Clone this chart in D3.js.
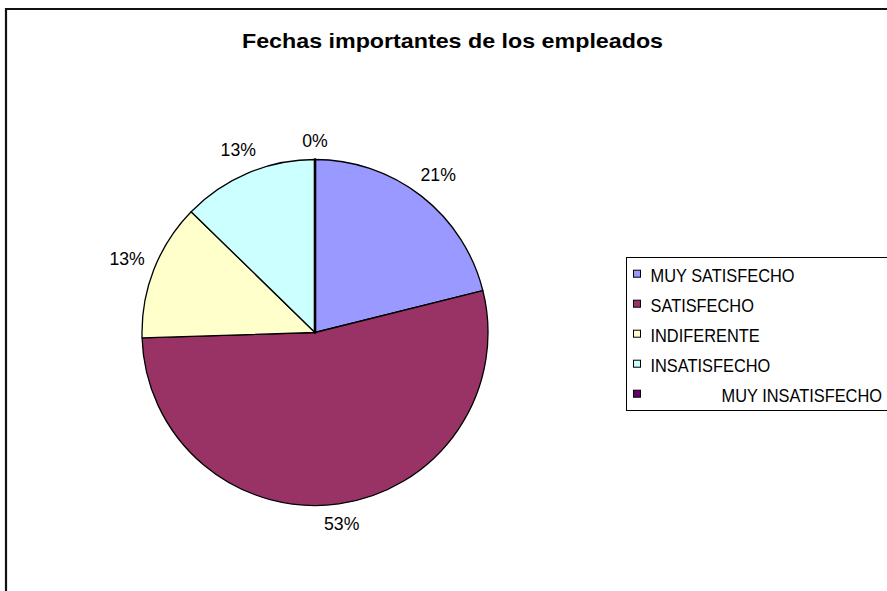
<!DOCTYPE html>
<html>
<head>
<meta charset="utf-8">
<script src="https://cdn.jsdelivr.net/npm/d3@7"></script>
<style>
  html, body { margin: 0; padding: 0; background: #ffffff; }
  svg { display: block; }
  text { font-family: "Liberation Sans", Arial, sans-serif; fill: #000; }
</style>
</head>
<body>
<svg id="chart" width="887" height="591"></svg>
<script>
// Survey answers (share of employees, %)
const categories = ["MUY SATISFECHO", "SATISFECHO", "INDIFERENTE", "INSATISFECHO", "MUY INSATISFECHO"];
const values = [21.1, 53.4, 12.8, 12.7, 0];
const colors = ["#9999FF", "#993366", "#FFFFCC", "#CCFFFF", "#660066"];
const title = "Fechas importantes de los empleados";

const svg = d3.select("#chart");
const W = 887, H = 591;

// narrow the glyphs of a text element by a fixed factor
function squeeze(sel, k) {
  sel.each(function () {
    const n = this.getComputedTextLength();
    d3.select(this).attr("textLength", n * k).attr("lengthAdjust", "spacingAndGlyphs");
  });
}

// chart frame (continues past the right and bottom edges)
svg.append("rect").attr("x", 0).attr("y", 0).attr("width", W).attr("height", H).attr("fill", "#fff");
svg.append("path")
  .attr("d", `M6,${H + 5} V9 H${W + 5}`)
  .attr("fill", "none").attr("stroke", "#111").attr("stroke-width", 2.2);

// title
svg.append("text")
  .attr("x", 452.5).attr("y", 48)
  .attr("text-anchor", "middle")
  .attr("font-size", 21).attr("font-weight", "bold")
  .attr("textLength", 421).attr("lengthAdjust", "spacingAndGlyphs")
  .text(title);

// pie
const cx = 315, cy = 332.5, r = 173;
const color = d3.scaleOrdinal().domain(categories).range(colors);
const total = d3.sum(values);
const data = categories.map((c, i) => ({ name: c, value: values[i] }));
const pie = d3.pie().sort(null).value(d => d.value).startAngle(0).endAngle(2 * Math.PI);
const arcs = pie(data);
const arc = d3.arc().innerRadius(0).outerRadius(r);

const g = svg.append("g").attr("transform", `translate(${cx},${cy})`);
g.selectAll("path.slice")
  .data(arcs)
  .join("path")
  .attr("class", "slice")
  .attr("d", arc)
  .attr("fill", d => color(d.data.name))
  .attr("stroke", "#000")
  .attr("stroke-width", d => d.endAngle - d.startAngle === 0 ? 2.6 : 1.3)
  .attr("stroke-linejoin", "round");

// percentage labels, set just outside the rim at each slice's mid-angle
const labelSize = 19;
const gap = 8.5;
g.selectAll("text.pct")
  .data(arcs)
  .join("text")
  .attr("class", "pct")
  .attr("font-size", labelSize)
  .attr("text-anchor", "middle")
  .attr("dominant-baseline", "central")
  .text(d => Math.round(d.data.value / total * 100) + "%")
  .call(squeeze, 0.93)
  .each(function (d) {
    const a = (d.startAngle + d.endAngle) / 2;
    const bw = +d3.select(this).attr("textLength");
    const bh = 20;
    const s = Math.sin(a), c = -Math.cos(a);
    const dist = r + gap + Math.abs(s) * bw / 2 + Math.abs(c) * bh / 2;
    d3.select(this).attr("x", s * dist).attr("y", c * dist - 0.5);
  });

// legend
const lgX = 626, lgY = 257, lgH = 153;
svg.append("rect")
  .attr("x", lgX + 0.5).attr("y", lgY + 0.5)
  .attr("width", W + 20 - lgX).attr("height", lgH)
  .attr("fill", "#fff").attr("stroke", "#000").attr("stroke-width", 1);

const row = d3.scalePoint().domain(categories).range([281.7, 401.7]);
const lg = svg.append("g");
const items = lg.selectAll("g.item").data(categories).join("g").attr("class", "item");
items.append("rect")
  .attr("x", 633.5).attr("y", d => row(d) - 11.5)
  .attr("width", 7).attr("height", 7)
  .attr("fill", d => color(d)).attr("stroke", "#000").attr("stroke-width", 1);
items.append("text")
  .attr("font-size", 18.5)
  .attr("y", d => row(d))
  // the last entry sits right-aligned against the box edge
  .attr("x", (d, i) => i === categories.length - 1 ? 882 : 650.5)
  .attr("text-anchor", (d, i) => i === categories.length - 1 ? "end" : "start")
  .text(d => d)
  .call(squeeze, 0.885);
</script>
</body>
</html>
